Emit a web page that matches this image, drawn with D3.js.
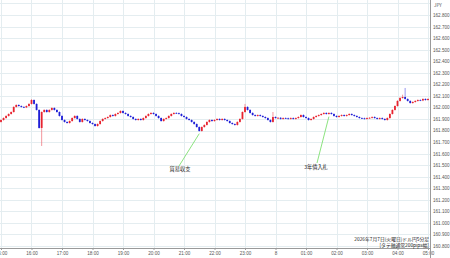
<!DOCTYPE html>
<html>
<head>
<meta charset="utf-8">
<script src="https://cdn.jsdelivr.net/npm/d3@7"></script>
<style>
  body { margin: 0; background: #fff; }
  svg { display: block; font-family: "Noto Sans CJK JP", "Noto Sans", sans-serif; }
  .grid line { stroke: #e4edf0; stroke-width: 1; }
  .axis text { fill: #555; font-size: 4.6px; }
  .axis path, .axis line { stroke: #9a9a9a; }
</style>
</head>
<body>
<div id="chart"></div>
<script>
// 5 min candles, 2026-07-07 15:00 -> 2026-07-08 05:00
var startTime = new Date(2026, 6, 7, 15, 0);
var stepMinutes = 5;

var opens = [161.874,161.891,161.908,161.926,161.943,161.960,162.004,162.021,162.012,162.004,
162.000,162.012,162.030,162.064,162.030,161.978,161.822,161.960,161.978,161.960,
161.978,161.995,161.978,161.960,161.926,161.891,161.874,161.865,161.882,161.908,
161.926,161.900,161.874,161.900,161.891,161.882,161.865,161.856,161.839,161.856,
161.882,161.900,161.908,161.917,161.934,161.926,161.943,161.952,161.969,161.952,
161.943,161.926,161.917,161.900,161.891,161.900,161.891,161.908,161.926,161.943,
161.952,161.943,161.926,161.908,161.882,161.900,161.908,161.926,161.943,161.952,
161.950,161.943,161.926,161.917,161.900,161.891,161.874,161.856,161.830,161.796,
161.830,161.848,161.874,161.891,161.882,161.891,161.900,161.891,161.900,161.891,
161.882,161.865,161.856,161.848,161.874,161.900,161.960,162.004,161.978,161.952,
161.934,161.926,161.934,161.926,161.917,161.908,161.891,161.874,161.917,161.908,
161.910,161.900,161.908,161.906,161.900,161.908,161.900,161.908,161.917,161.934,
161.917,161.908,161.891,161.900,161.917,161.926,161.934,161.943,161.952,161.943,
161.952,161.943,161.926,161.917,161.926,161.934,161.926,161.934,161.943,161.934,
161.926,161.917,161.908,161.906,161.900,161.908,161.910,161.917,161.908,161.900,
161.908,161.900,161.891,161.908,161.943,161.978,162.012,162.056,162.082,162.090,
162.073,162.056,162.038,162.047,162.056,162.064,162.060,162.073,162.064];

var closes = [161.891,161.908,161.926,161.943,161.960,162.004,162.021,162.012,162.004,162.000,
162.012,162.030,162.064,162.030,161.978,161.822,161.960,161.978,161.960,161.978,
161.995,161.978,161.960,161.926,161.891,161.874,161.865,161.882,161.908,161.926,
161.900,161.874,161.900,161.891,161.882,161.865,161.856,161.839,161.856,161.882,
161.900,161.908,161.917,161.934,161.926,161.943,161.952,161.969,161.952,161.943,
161.926,161.917,161.900,161.891,161.900,161.891,161.908,161.926,161.943,161.952,
161.943,161.926,161.908,161.882,161.900,161.908,161.926,161.943,161.952,161.950,
161.943,161.926,161.917,161.900,161.891,161.874,161.856,161.830,161.796,161.830,
161.848,161.874,161.891,161.882,161.891,161.900,161.891,161.900,161.891,161.882,
161.865,161.856,161.848,161.874,161.900,161.960,162.004,161.978,161.952,161.934,
161.926,161.934,161.926,161.917,161.908,161.891,161.874,161.917,161.908,161.910,
161.900,161.908,161.906,161.900,161.908,161.900,161.908,161.917,161.934,161.917,
161.908,161.891,161.900,161.917,161.926,161.934,161.943,161.952,161.943,161.952,
161.943,161.926,161.917,161.926,161.934,161.926,161.934,161.943,161.934,161.926,
161.917,161.908,161.906,161.900,161.908,161.910,161.917,161.908,161.900,161.908,
161.900,161.891,161.908,161.943,161.978,162.012,162.056,162.082,162.090,162.073,
162.056,162.038,162.047,162.056,162.064,162.060,162.073,162.064,162.073];

var highs = [161.897,161.914,161.932,161.949,161.966,162.010,162.027,162.027,162.018,162.010,
162.018,162.036,162.072,162.070,162.036,161.984,161.966,161.984,161.984,161.984,
162.001,162.001,161.984,161.966,161.932,161.897,161.880,161.888,161.914,161.932,
161.932,161.906,161.906,161.906,161.897,161.888,161.871,161.862,161.862,161.888,
161.906,161.914,161.923,161.940,161.940,161.949,161.958,161.975,161.975,161.958,
161.949,161.932,161.923,161.906,161.906,161.906,161.914,161.932,161.949,161.958,
161.958,161.949,161.932,161.914,161.906,161.914,161.932,161.949,161.958,161.958,
161.956,161.949,161.932,161.923,161.906,161.897,161.880,161.862,161.836,161.836,
161.854,161.880,161.897,161.897,161.897,161.906,161.906,161.906,161.906,161.897,
161.888,161.871,161.862,161.880,161.906,161.966,162.030,162.010,161.984,161.958,
161.940,161.940,161.940,161.932,161.923,161.914,161.897,161.960,161.923,161.916,
161.916,161.914,161.914,161.912,161.914,161.914,161.914,161.923,161.940,161.940,
161.923,161.914,161.906,161.923,161.932,161.940,161.949,161.958,161.958,161.958,
161.958,161.949,161.932,161.932,161.940,161.940,161.940,161.949,161.949,161.940,
161.932,161.923,161.914,161.912,161.914,161.916,161.923,161.923,161.914,161.914,
161.914,161.906,161.914,161.949,161.984,162.018,162.062,162.088,162.110,162.168,
162.079,162.062,162.053,162.062,162.070,162.070,162.079,162.079,162.079];

var lows = [161.868,161.885,161.902,161.920,161.937,161.954,161.998,162.006,161.998,161.994,
161.994,162.006,162.024,162.024,161.972,161.816,161.666,161.954,161.954,161.954,
161.972,161.972,161.954,161.920,161.885,161.868,161.859,161.859,161.876,161.902,
161.894,161.868,161.868,161.885,161.876,161.859,161.850,161.833,161.833,161.850,
161.876,161.894,161.902,161.911,161.920,161.920,161.937,161.946,161.946,161.937,
161.920,161.911,161.894,161.885,161.885,161.885,161.885,161.902,161.920,161.937,
161.937,161.920,161.902,161.876,161.876,161.894,161.902,161.920,161.937,161.944,
161.937,161.920,161.911,161.894,161.885,161.868,161.850,161.824,161.790,161.790,
161.824,161.842,161.868,161.876,161.876,161.885,161.885,161.885,161.885,161.876,
161.859,161.850,161.842,161.842,161.868,161.894,161.954,161.972,161.946,161.928,
161.920,161.920,161.920,161.911,161.902,161.885,161.868,161.868,161.902,161.902,
161.894,161.894,161.900,161.894,161.894,161.894,161.894,161.902,161.911,161.911,
161.902,161.885,161.885,161.894,161.911,161.920,161.928,161.937,161.937,161.937,
161.937,161.920,161.911,161.911,161.920,161.920,161.920,161.928,161.928,161.920,
161.911,161.902,161.900,161.894,161.894,161.902,161.904,161.902,161.894,161.894,
161.894,161.885,161.885,161.902,161.937,161.972,162.006,162.050,162.076,162.067,
162.050,162.032,162.032,162.041,162.050,162.054,162.054,162.058,162.058];

var priceTicks = [160.8,160.9,161.0,161.1,161.2,161.3,161.4,161.5,161.6,161.7,161.8,
  161.9,162.0,162.1,162.2,162.3,162.4,162.5,162.6,162.7,162.8];
var gridPrices = priceTicks.concat([162.9]);

var notes = [
  { text: "貿易収支", idx: 78, lx: 179, ly: 166, tx: 180, ty: 171 },
  { text: "3年債入札", idx: 129, lx: 317, ly: 163, tx: 316, ty: 169 }
];
var footLines = ["2026年7月7日(火曜日)ドル円5分足", "[タテ軸通常200pips幅]"];

var width = 450, height = 258;
var plotRight = 430, plotBottom = 248;

var candles = closes.map(function (c, i) {
  return {
    t: new Date(startTime.getTime() + i * stepMinutes * 60000),
    o: opens[i], h: highs[i], l: lows[i], c: c
  };
});

var x = d3.scaleTime()
  .domain([startTime, new Date(2026, 6, 8, 5, 0)])
  .range([1, 428]);

var y = d3.scaleLinear()
  .domain([160.8, 162.8])
  .range([246, 15]);

var svg = d3.select("#chart").append("svg")
  .attr("width", width)
  .attr("height", height);

var hours = x.ticks(d3.timeHour.every(1));

// grid
var grid = svg.append("g").attr("class", "grid");
grid.selectAll("line.h")
  .data(gridPrices)
  .enter().append("line")
  .attr("class", "h")
  .attr("x1", 0).attr("x2", plotRight)
  .attr("y1", function (d) { return Math.round(y(d)) + 0.5; })
  .attr("y2", function (d) { return Math.round(y(d)) + 0.5; });
grid.selectAll("line.v")
  .data(hours)
  .enter().append("line")
  .attr("class", "v")
  .attr("y1", 0).attr("y2", plotBottom)
  .attr("x1", function (d) { return Math.round(x(d)) + 0.5; })
  .attr("x2", function (d) { return Math.round(x(d)) + 0.5; });

// candles
var up = "#e8232f", down = "#1f1fd6";
var cg = svg.append("g");
cg.selectAll("line.wick")
  .data(candles)
  .enter().append("line")
  .attr("class", "wick")
  .attr("x1", function (d) { return x(d.t); })
  .attr("x2", function (d) { return x(d.t); })
  .attr("y1", function (d) { return y(d.h); })
  .attr("y2", function (d) { return y(d.l); })
  .attr("stroke", function (d) { return d.c >= d.o ? "#ef6a72" : "#6a6ae6"; })
  .attr("stroke-width", 0.7);
cg.selectAll("rect")
  .data(candles)
  .enter().append("rect")
  .attr("x", function (d) { return x(d.t) - 0.9; })
  .attr("width", 1.8)
  .attr("y", function (d) { return y(Math.max(d.o, d.c)); })
  .attr("height", function (d) { return Math.max(0.8, Math.abs(y(d.o) - y(d.c))); })
  .attr("fill", function (d) { return d.c >= d.o ? up : down; });

// annotations
var ng = svg.append("g");
notes.forEach(function (n) {
  var d = candles[n.idx];
  ng.append("line")
    .attr("x1", n.lx).attr("y1", n.ly)
    .attr("x2", x(d.t)).attr("y2", y(d.l) + 2)
    .attr("stroke", "#6fdc5f").attr("stroke-width", 0.8);
  ng.append("text")
    .attr("x", n.tx).attr("y", n.ty)
    .attr("text-anchor", "middle")
    .attr("font-size", 5.2)
    .attr("fill", "#222")
    .text(n.text);
});

// axes
var xAxis = svg.append("g")
  .attr("class", "axis")
  .attr("transform", "translate(0," + plotBottom + ")")
  .call(d3.axisBottom(x)
    .ticks(d3.timeHour.every(1))
    .tickSize(2)
    .tickFormat(function (d) {
      return d.getHours() === 0 ? String(d.getDate()) : d3.timeFormat("%H:%M")(d);
    }));
xAxis.select(".domain").attr("d", "M0,0.5H" + plotRight);
xAxis.selectAll("text").attr("dy", "0.5em");

var yAxis = svg.append("g")
  .attr("class", "axis")
  .attr("transform", "translate(" + plotRight + ",0)")
  .call(d3.axisRight(y)
    .tickValues(priceTicks)
    .tickSize(0)
    .tickPadding(3)
    .tickFormat(d3.format(".3f")));
yAxis.select(".domain").attr("d", "M0.5,0V" + height);

svg.append("text")
  .attr("x", 434).attr("y", 7)
  .attr("font-size", 4.6)
  .attr("fill", "#555")
  .text("JPY");

// footnote
svg.selectAll("text.foot")
  .data(footLines)
  .enter().append("text")
  .attr("class", "foot")
  .attr("x", 429)
  .attr("y", function (d, i) { return 241 + i * 5.5; })
  .attr("text-anchor", "end")
  .attr("font-size", 4.8)
  .attr("fill", "#222")
  .text(function (d) { return d; });
</script>
</body>
</html>
